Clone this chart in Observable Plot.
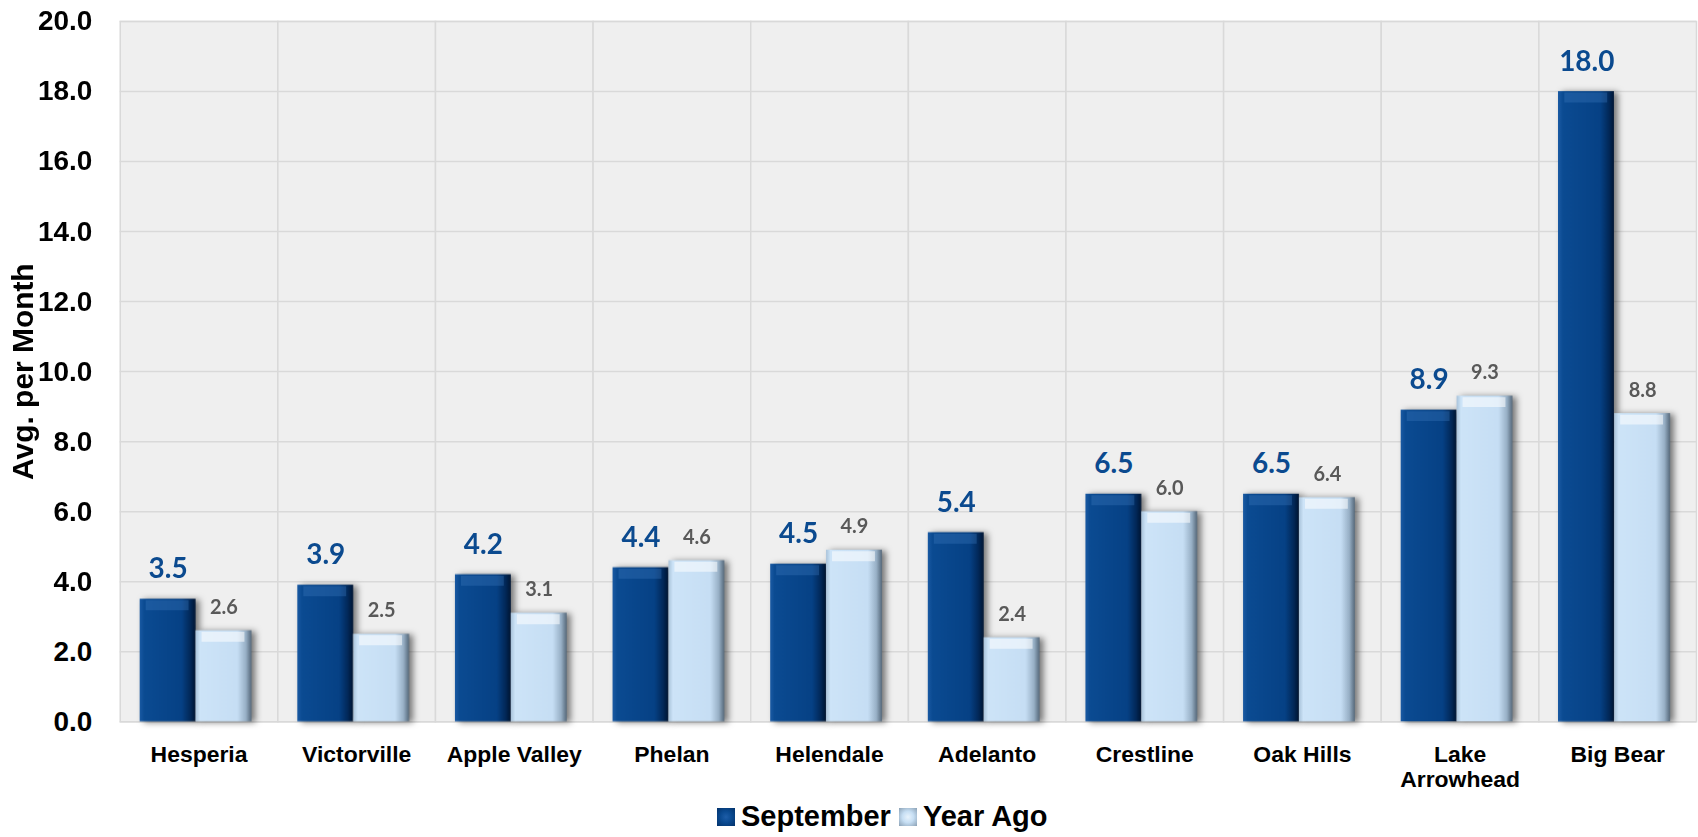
<!DOCTYPE html>
<html>
<head>
<meta charset="utf-8">
<script src="https://cdn.jsdelivr.net/npm/d3@7"></script>
<script src="https://cdn.jsdelivr.net/npm/@observablehq/plot@0.6"></script>
<style>
  html, body { margin: 0; padding: 0; background: #ffffff; overflow: hidden; }
  #chart svg { display: block; }
  #legend {
    position: relative; height: 37px; display: flex; align-items: center;
    padding-left: 717px; font-family: "Liberation Sans", Arial, sans-serif;
    font-weight: bold; font-size: 29px; color: #000; line-height: 37px; white-space: nowrap;
  }
  .sw { width: 18px; height: 18px; display: inline-block; margin-right: 6px; }
  .sw1 { background: radial-gradient(circle, #1d5da8 0%, #0a4a91 45%, #03326a 100%); }
  .sw2 { background: radial-gradient(circle, #e8f3fc 0%, #c6def3 45%, #8aa0b4 100%); margin-left: 8px; }
</style>
</head>
<body>
<div id="chart"></div>
<div id="legend"><span class="sw sw1"></span><span>September</span><span class="sw sw2"></span><span>Year Ago</span></div>
<script>
const cities = ["Hesperia", "Victorville", "Apple Valley", "Phelan", "Helendale", "Adelanto", "Crestline", "Oak Hills", "Lake Arrowhead", "Big Bear"];
const cityLabels = ["Hesperia", "Victorville", "Apple Valley", "Phelan", "Helendale", "Adelanto", "Crestline", "Oak Hills", "Lake\nArrowhead", "Big Bear"];
const seriesNames = ["September", "Year Ago"];
const september = [3.5, 3.9, 4.2, 4.4, 4.5, 5.4, 6.5, 6.5, 8.9, 18.0];
const yearAgo = [2.6, 2.5, 3.1, 4.6, 4.9, 2.4, 6.0, 6.4, 9.3, 8.8];
const yTicks = [0, 2, 4, 6, 8, 10, 12, 14, 16, 18, 20];

const sepData = cities.map((c, i) => ({city: c, series: seriesNames[0], value: september[i]}));
const yaData = cities.map((c, i) => ({city: c, series: seriesNames[1], value: yearAgo[i]}));

const labelOf = new Map(cities.map((c, i) => [c, cityLabels[i]]));

const chart = Plot.plot({
  width: 1702,
  height: 800,
  marginTop: 21,
  marginBottom: 77,
  marginLeft: 117,
  marginRight: 0,
  style: {fontFamily: "'Liberation Sans', Arial, sans-serif", fontWeight: "bold", color: "#000", background: "transparent", overflow: "visible"},
  fx: {domain: cities, padding: 0, label: null, axis: null},
  x: {domain: seriesNames, paddingInner: 0, paddingOuter: 0.4, align: 0.44, axis: null},
  y: {domain: [0, 20], label: null},
  marks: [
    Plot.frame({fill: "#efefef", stroke: "#d9d9d9", strokeWidth: 1.5}),
    Plot.gridY(yTicks, {stroke: "#d9d9d9", strokeOpacity: 1, strokeWidth: 1.5}),
    Plot.barY(sepData, {fx: "city", x: "series", y: "value", fill: "url(#gSep)"}),
    Plot.barY(yaData, {fx: "city", x: "series", y: "value", fill: "url(#gYA)"}),
    Plot.tickY(sepData, {fx: "city", x: "series", y: "value", stroke: "#3d78bd", strokeOpacity: 0.35, strokeWidth: 10, dy: 6, insetLeft: 6, insetRight: 7}),
    Plot.tickY(yaData, {fx: "city", x: "series", y: "value", stroke: "#ffffff", strokeOpacity: 0.55, strokeWidth: 10, dy: 6, insetLeft: 6, insetRight: 7}),
    Plot.text(sepData, {fx: "city", x: "series", y: "value", text: d => d.value.toFixed(1), dy: -21, lineAnchor: "bottom", fill: "#0b4a8f", fontSize: 28, fontFamily: "Lato, sans-serif", fontWeight: "bold"}),
    Plot.text(yaData, {fx: "city", x: "series", y: "value", text: d => d.value.toFixed(1), dy: -17, lineAnchor: "bottom", fill: "#595959", fontSize: 20, fontFamily: "Lato, sans-serif", fontWeight: "bold"}),
    Plot.axisY({ticks: yTicks, tickSize: 0, tickPadding: 28, fontSize: 28, tickFormat: d => d.toFixed(1), label: "Avg. per Month", labelAnchor: "center", labelArrow: "none", labelOffset: 109}),
    Plot.axisFx({anchor: "bottom", tickSize: 0, tickPadding: 22, fontSize: 23, lineHeight: 1.1, tickFormat: d => labelOf.get(d), label: null})
  ]
});

// gradients for the bevelled bars
const svg = d3.select(chart);
const defs = svg.insert("defs", ":first-child");
const g1 = defs.append("linearGradient").attr("id", "gSep").attr("x1", "0").attr("x2", "1").attr("y1", "0").attr("y2", "0");
[[0, "#1a5aa3"], [0.08, "#0b4b92"], [0.75, "#064185"], [0.9, "#02295a"], [1, "#011633"]].forEach(([o, c]) => g1.append("stop").attr("offset", o).attr("stop-color", c));
const g2 = defs.append("linearGradient").attr("id", "gYA").attr("x1", "0").attr("x2", "1").attr("y1", "0").attr("y2", "0");
[[0, "#a9c3da"], [0.08, "#cde4f8"], [0.75, "#c6def4"], [0.9, "#98b0c6"], [1, "#55687a"]].forEach(([o, c]) => g2.append("stop").attr("offset", o).attr("stop-color", c));
svg.selectAll('g[aria-label="bar"]').style("filter", "drop-shadow(4px 1px 3px rgba(0,0,0,0.5))");
svg.selectAll('g[aria-label="y-axis label"] text').attr("font-size", 30);

document.getElementById("chart").appendChild(chart);
</script>
</body>
</html>
